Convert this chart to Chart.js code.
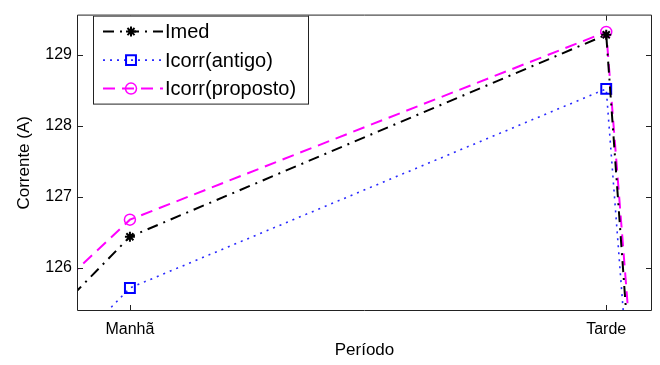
<!DOCTYPE html>
<html>
<head>
<meta charset="utf-8">
<script src="https://cdn.jsdelivr.net/npm/chart.js@4"></script>
<style>
    html, body { margin: 0; padding: 0; background: #fff; }
    #wrap { width: 660px; height: 365px; }
</style>
</head>
<body>
<div id="wrap"><canvas id="corrente-chart"></canvas></div>
<script>
const categories = ['Madrugada', 'Manhã', 'Tarde', 'Noite'];
const shownCategories = ['Manhã', 'Tarde'];
const imed = [119.6, 126.44, 129.28, 36];
const icorrAntigo = [118.8, 125.72, 128.52, 41];
const icorrProposto = [120.4, 126.68, 129.32, 44];
const yTicks = [126, 127, 128, 129];

const toPoints = (values) => values.map((v, i) => ({ x: i, y: v }));

Chart.defaults.font.family = '"Liberation Sans", Arial, sans-serif';
Chart.defaults.color = '#000';

// MATLAB style box with inward tick marks
const boxPlugin = {
    id: 'matlabBox',
    afterDatasetsDraw(chart) {
        const { ctx, chartArea: a, scales } = chart;
        const len = 5;
        ctx.save();
        ctx.strokeStyle = '#222';
        ctx.lineWidth = 1;
        ctx.beginPath();
        ctx.rect(a.left - 0.5, a.top - 0.5, a.right - a.left + 1, a.bottom - a.top + 1);
        scales.y.ticks.forEach((t) => {
            const y = Math.round(scales.y.getPixelForValue(t.value)) + 0.5;
            ctx.moveTo(a.left, y); ctx.lineTo(a.left + len, y);
            ctx.moveTo(a.right, y); ctx.lineTo(a.right - len, y);
        });
        scales.x.ticks.forEach((t) => {
            const x = Math.round(scales.x.getPixelForValue(t.value)) + 0.5;
            ctx.moveTo(x, a.bottom); ctx.lineTo(x, a.bottom - len);
            ctx.moveTo(x, a.top); ctx.lineTo(x, a.top + len);
        });
        ctx.stroke();
        ctx.restore();
    },
};

function drawMarker(ctx, ds, x, y) {
    ctx.save();
    ctx.setLineDash([]);
    ctx.strokeStyle = ds.pointBorderColor;
    ctx.lineWidth = ds.pointBorderWidth;
    const r = ds.pointRadius;
    ctx.beginPath();
    if (ds.pointStyle === 'rect') {
        const s = Math.SQRT1_2 * r;
        ctx.rect(x - s, y - s, 2 * s, 2 * s);
    } else if (ds.pointStyle === 'circle') {
        ctx.arc(x, y, r, 0, Math.PI * 2);
    } else {
        for (let k = 0; k < 4; k++) {
            const ang = k * Math.PI / 4;
            ctx.moveTo(x - Math.cos(ang) * r, y - Math.sin(ang) * r);
            ctx.lineTo(x + Math.cos(ang) * r, y + Math.sin(ang) * r);
        }
    }
    ctx.stroke();
    ctx.restore();
}

// legend box inside the plot, top left
const legendPlugin = {
    id: 'innerLegend',
    afterDraw(chart) {
        const { ctx, chartArea: a } = chart;
        const left = a.left + 15, top = a.top, w = 215, h = 88;
        ctx.save();
        ctx.fillStyle = '#fff';
        ctx.fillRect(left, top, w, h);
        ctx.strokeStyle = '#222';
        ctx.lineWidth = 1;
        ctx.strokeRect(left + 0.5, top + 0.5, w, h);
        chart.data.datasets.forEach((ds, i) => {
            const y = top + 16 + i * 28.5;
            ctx.save();
            ctx.strokeStyle = ds.borderColor;
            ctx.lineWidth = ds.borderWidth;
            ctx.setLineDash(ds.borderDash);
            ctx.beginPath();
            ctx.moveTo(left + 10, y);
            ctx.lineTo(left + 70, y);
            ctx.stroke();
            ctx.restore();
            drawMarker(ctx, ds, left + 38, y);
            ctx.fillStyle = '#000';
            ctx.font = '20px "Liberation Sans", Arial, sans-serif';
            ctx.textBaseline = 'middle';
            ctx.fillText(ds.label, left + 72, y + 1);
        });
        ctx.restore();
    },
};

new Chart(document.getElementById('corrente-chart'), {
    type: 'line',
    data: {
        datasets: [
            {
                label: 'Imed',
                data: toPoints(imed),
                borderColor: '#000',
                borderWidth: 2,
                borderDash: [11, 6, 2, 6],
                pointStyle: 'star',
                pointRadius: 5,
                pointBorderWidth: 2,
                pointBorderColor: '#000',
                pointBackgroundColor: '#000',
            },
            {
                label: 'Icorr(antigo)',
                data: toPoints(icorrAntigo),
                borderColor: '#2a2aff',
                borderWidth: 1.6,
                borderDash: [2, 5],
                pointStyle: 'rect',
                pointRadius: 7,
                pointBorderWidth: 2,
                pointBorderColor: '#0000ff',
                pointBackgroundColor: 'rgba(0,0,0,0)',
            },
            {
                label: 'Icorr(proposto)',
                data: toPoints(icorrProposto),
                borderColor: '#ff00ff',
                borderWidth: 2,
                borderDash: [12, 7],
                pointStyle: 'circle',
                pointRadius: 5.5,
                pointBorderWidth: 1.5,
                pointBorderColor: '#ff00ff',
                pointBackgroundColor: 'rgba(0,0,0,0)',
            },
        ],
    },
    options: {
        responsive: true,
        maintainAspectRatio: false,
        animation: false,
        layout: { padding: { top: 8, right: 8, left: 0, bottom: 0 } },
        plugins: {
            legend: { display: false },
            tooltip: { enabled: false },
        },
        elements: { line: { tension: 0 } },
        scales: {
            x: {
                type: 'linear',
                min: 0.891,
                max: 2.094,
                afterBuildTicks: (axis) => {
                    axis.ticks = shownCategories.map((c) => ({ value: categories.indexOf(c) }));
                },
                afterFit: (axis) => { axis.height = 55; },
                grid: { display: false, drawTicks: false },
                border: { display: false },
                ticks: {
                    font: { size: 16 },
                    padding: 10,
                    maxRotation: 0,
                    callback: (value) => categories[value],
                },
                title: {
                    display: true,
                    text: 'Período',
                    font: { size: 17 },
                    padding: { top: 0, bottom: 4 },
                },
            },
            y: {
                min: 125.41,
                max: 129.55,
                afterBuildTicks: (axis) => {
                    axis.ticks = yTicks.map((v) => ({ value: v }));
                },
                afterFit: (axis) => { axis.width = 78; },
                grid: { display: false, drawTicks: false },
                border: { display: false },
                ticks: {
                    font: { size: 16 },
                    padding: 6,
                },
                title: {
                    display: true,
                    text: 'Corrente (A)',
                    font: { size: 17 },
                    padding: { top: 14, bottom: 0 },
                },
            },
        },
    },
    plugins: [boxPlugin, legendPlugin],
});
</script>
</body>
</html>
